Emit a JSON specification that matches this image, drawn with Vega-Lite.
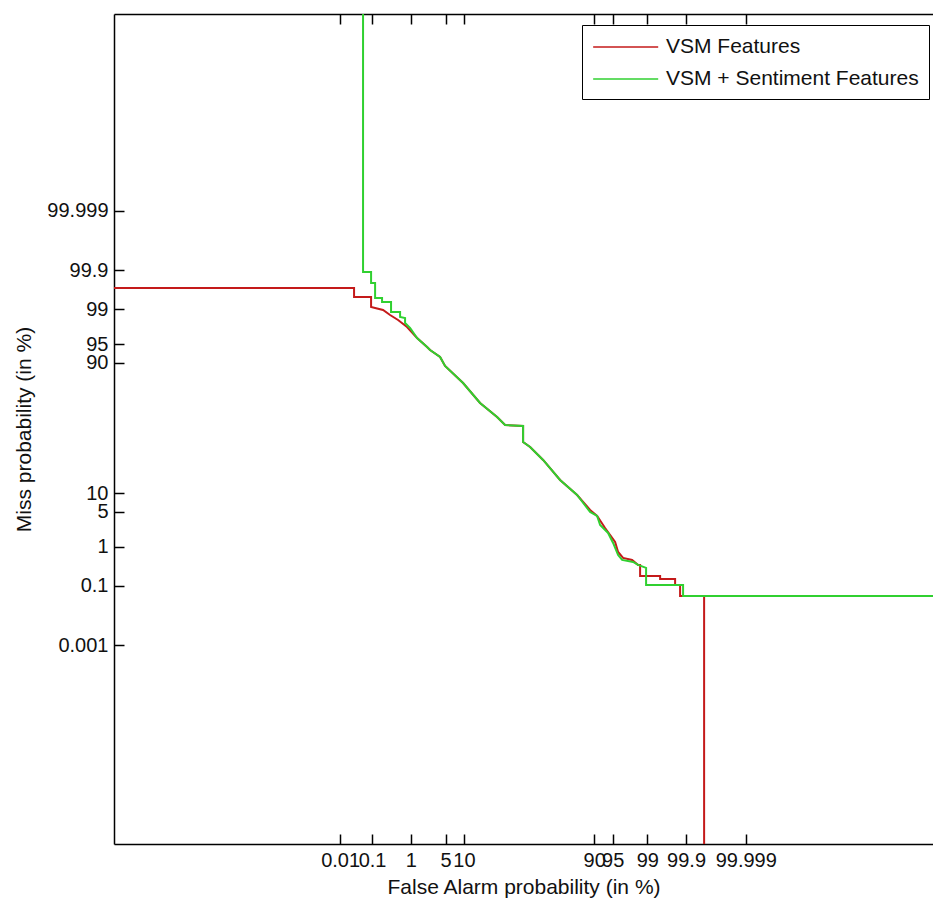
{
  "$schema": "https://vega.github.io/schema/vega-lite/v6.json",
  "autosize": "none",
  "width": 819,
  "height": 830,
  "padding": {"left": 114, "top": 14, "right": 0, "bottom": 58},
  "background": "white",
  "config": {
    "view": {"stroke": null},
    "font": "Liberation Sans",
    "axis": {
      "grid": false,
      "domainColor": "black",
      "domainWidth": 1.5,
      "tickColor": "black",
      "tickWidth": 1.5,
      "tickSize": -10,
      "labelFont": "Liberation Sans",
      "labelFontSize": 20,
      "labelColor": "#111",
      "labelOverlap": false,
      "labelFlush": false,
      "labelPadding": 16,
      "titleFont": "Liberation Sans",
      "titleFontSize": 21,
      "titleFontWeight": "normal",
      "titleColor": "#111"
    },
    "legend": {
      "orient": "none",
      "legendX": 468,
      "legendY": 11,
      "strokeColor": "black",
      "fillColor": "white",
      "padding": 10,
      "symbolType": "M-1,0H5",
      "symbolSize": 470,
      "symbolStrokeWidth": 1.5,
      "labelFont": "Liberation Sans",
      "labelFontSize": 21,
      "labelColor": "#111",
      "labelOffset": 50,
      "rowPadding": 10,
      "labelLimit": 400
    }
  },
  "data": {
    "values": [
      {"system": "VSM Features", "i": 0, "far": -9, "miss": 2.745},
      {"system": "VSM Features", "i": 1, "far": -3.445, "miss": 2.745},
      {"system": "VSM Features", "i": 2, "far": -3.445, "miss": 2.569},
      {"system": "VSM Features", "i": 3, "far": -3.110, "miss": 2.569},
      {"system": "VSM Features", "i": 4, "far": -3.110, "miss": 2.373},
      {"system": "VSM Features", "i": 5, "far": -3.031, "miss": 2.353},
      {"system": "VSM Features", "i": 6, "far": -2.874, "miss": 2.314},
      {"system": "VSM Features", "i": 7, "far": -2.736, "miss": 2.216},
      {"system": "VSM Features", "i": 8, "far": -2.579, "miss": 2.118},
      {"system": "VSM Features", "i": 9, "far": -2.402, "miss": 1.980},
      {"system": "VSM Features", "i": 10, "far": -2.205, "miss": 1.765},
      {"system": "VSM Features", "i": 11, "far": -2.008, "miss": 1.588},
      {"system": "VSM Features", "i": 12, "far": -1.949, "miss": 1.529},
      {"system": "VSM Features", "i": 13, "far": -1.752, "miss": 1.392},
      {"system": "VSM Features", "i": 14, "far": -1.654, "miss": 1.216},
      {"system": "VSM Features", "i": 15, "far": -1.299, "miss": 0.882},
      {"system": "VSM Features", "i": 16, "far": -0.965, "miss": 0.490},
      {"system": "VSM Features", "i": 17, "far": -0.630, "miss": 0.216},
      {"system": "VSM Features", "i": 18, "far": -0.472, "miss": 0.059},
      {"system": "VSM Features", "i": 19, "far": -0.118, "miss": 0.039},
      {"system": "VSM Features", "i": 20, "far": -0.118, "miss": -0.275},
      {"system": "VSM Features", "i": 21, "far": 0.020, "miss": -0.373},
      {"system": "VSM Features", "i": 22, "far": 0.276, "miss": -0.627},
      {"system": "VSM Features", "i": 23, "far": 0.610, "miss": -1.020},
      {"system": "VSM Features", "i": 24, "far": 0.945, "miss": -1.314},
      {"system": "VSM Features", "i": 25, "far": 1.201, "miss": -1.608},
      {"system": "VSM Features", "i": 26, "far": 1.339, "miss": -1.725},
      {"system": "VSM Features", "i": 27, "far": 1.496, "miss": -1.961},
      {"system": "VSM Features", "i": 28, "far": 1.693, "miss": -2.235},
      {"system": "VSM Features", "i": 29, "far": 1.752, "miss": -2.431},
      {"system": "VSM Features", "i": 30, "far": 1.850, "miss": -2.549},
      {"system": "VSM Features", "i": 31, "far": 2.028, "miss": -2.588},
      {"system": "VSM Features", "i": 32, "far": 2.146, "miss": -2.686},
      {"system": "VSM Features", "i": 33, "far": 2.185, "miss": -2.686},
      {"system": "VSM Features", "i": 34, "far": 2.185, "miss": -2.902},
      {"system": "VSM Features", "i": 35, "far": 2.579, "miss": -2.902},
      {"system": "VSM Features", "i": 36, "far": 2.579, "miss": -2.961},
      {"system": "VSM Features", "i": 37, "far": 2.874, "miss": -2.961},
      {"system": "VSM Features", "i": 38, "far": 2.874, "miss": -3.078},
      {"system": "VSM Features", "i": 39, "far": 2.972, "miss": -3.078},
      {"system": "VSM Features", "i": 40, "far": 2.972, "miss": -3.294},
      {"system": "VSM Features", "i": 41, "far": 3.445, "miss": -3.294},
      {"system": "VSM Features", "i": 42, "far": 3.445, "miss": -9},
      {"system": "VSM + Sentiment Features", "i": 0, "far": -3.268, "miss": 9},
      {"system": "VSM + Sentiment Features", "i": 1, "far": -3.268, "miss": 3.059},
      {"system": "VSM + Sentiment Features", "i": 2, "far": -3.110, "miss": 3.059},
      {"system": "VSM + Sentiment Features", "i": 3, "far": -3.110, "miss": 2.843},
      {"system": "VSM + Sentiment Features", "i": 4, "far": -3.031, "miss": 2.843},
      {"system": "VSM + Sentiment Features", "i": 5, "far": -3.031, "miss": 2.549},
      {"system": "VSM + Sentiment Features", "i": 6, "far": -2.894, "miss": 2.549},
      {"system": "VSM + Sentiment Features", "i": 7, "far": -2.894, "miss": 2.471},
      {"system": "VSM + Sentiment Features", "i": 8, "far": -2.717, "miss": 2.471},
      {"system": "VSM + Sentiment Features", "i": 9, "far": -2.717, "miss": 2.275},
      {"system": "VSM + Sentiment Features", "i": 10, "far": -2.539, "miss": 2.275},
      {"system": "VSM + Sentiment Features", "i": 11, "far": -2.539, "miss": 2.176},
      {"system": "VSM + Sentiment Features", "i": 12, "far": -2.441, "miss": 2.157},
      {"system": "VSM + Sentiment Features", "i": 13, "far": -2.441, "miss": 2.059},
      {"system": "VSM + Sentiment Features", "i": 14, "far": -2.343, "miss": 1.961},
      {"system": "VSM + Sentiment Features", "i": 15, "far": -2.205, "miss": 1.765},
      {"system": "VSM + Sentiment Features", "i": 16, "far": -2.008, "miss": 1.588},
      {"system": "VSM + Sentiment Features", "i": 17, "far": -1.949, "miss": 1.529},
      {"system": "VSM + Sentiment Features", "i": 18, "far": -1.752, "miss": 1.392},
      {"system": "VSM + Sentiment Features", "i": 19, "far": -1.654, "miss": 1.216},
      {"system": "VSM + Sentiment Features", "i": 20, "far": -1.299, "miss": 0.882},
      {"system": "VSM + Sentiment Features", "i": 21, "far": -0.965, "miss": 0.490},
      {"system": "VSM + Sentiment Features", "i": 22, "far": -0.630, "miss": 0.216},
      {"system": "VSM + Sentiment Features", "i": 23, "far": -0.472, "miss": 0.059},
      {"system": "VSM + Sentiment Features", "i": 24, "far": -0.118, "miss": 0.039},
      {"system": "VSM + Sentiment Features", "i": 25, "far": -0.118, "miss": -0.275},
      {"system": "VSM + Sentiment Features", "i": 26, "far": 0.020, "miss": -0.373},
      {"system": "VSM + Sentiment Features", "i": 27, "far": 0.276, "miss": -0.627},
      {"system": "VSM + Sentiment Features", "i": 28, "far": 0.610, "miss": -1.020},
      {"system": "VSM + Sentiment Features", "i": 29, "far": 0.945, "miss": -1.314},
      {"system": "VSM + Sentiment Features", "i": 30, "far": 1.201, "miss": -1.647},
      {"system": "VSM + Sentiment Features", "i": 31, "far": 1.339, "miss": -1.725},
      {"system": "VSM + Sentiment Features", "i": 32, "far": 1.398, "miss": -1.902},
      {"system": "VSM + Sentiment Features", "i": 33, "far": 1.555, "miss": -2.059},
      {"system": "VSM + Sentiment Features", "i": 34, "far": 1.654, "miss": -2.255},
      {"system": "VSM + Sentiment Features", "i": 35, "far": 1.752, "miss": -2.490},
      {"system": "VSM + Sentiment Features", "i": 36, "far": 1.831, "miss": -2.588},
      {"system": "VSM + Sentiment Features", "i": 37, "far": 2.047, "miss": -2.627},
      {"system": "VSM + Sentiment Features", "i": 38, "far": 2.146, "miss": -2.686},
      {"system": "VSM + Sentiment Features", "i": 39, "far": 2.303, "miss": -2.745},
      {"system": "VSM + Sentiment Features", "i": 40, "far": 2.303, "miss": -3.078},
      {"system": "VSM + Sentiment Features", "i": 41, "far": 3.031, "miss": -3.078},
      {"system": "VSM + Sentiment Features", "i": 42, "far": 3.031, "miss": -3.294},
      {"system": "VSM + Sentiment Features", "i": 43, "far": 9, "miss": -3.294}
    ]
  },
  "resolve": {"axis": {"x": "independent", "y": "independent"}},
  "layer": [
    {
      "mark": {"type": "line", "strokeWidth": 2, "clip": true},
      "encoding": {
        "x": {
          "field": "far", "type": "quantitative",
          "scale": {"domain": [-8.17, 7.95], "nice": false, "zero": false},
          "axis": {
            "orient": "bottom",
            "title": "False Alarm probability (in %)",
            "titlePadding": 6,
            "values": [-3.719, -3.0902, -2.3263, -1.6449, -1.2816, 1.2816, 1.6449, 2.3263, 3.0902, 4.2649],
            "labelExpr": "datum.value < -4 ? '0.001' : datum.value < -3.5 ? '0.01' : datum.value < -3 ? '0.1' : datum.value < -2 ? '1' : datum.value < -1.5 ? '5' : datum.value < 0 ? '10' : datum.value < 1.5 ? '90' : datum.value < 2 ? '95' : datum.value < 3 ? '99' : datum.value < 4 ? '99.9' : '99.999'"
          }
        },
        "y": {
          "field": "miss", "type": "quantitative",
          "scale": {"domain": [-8.16, 8.12], "nice": false, "zero": false},
          "axis": {
            "orient": "left",
            "title": "Miss probability (in %)",
            "titlePadding": 12,
            "values": [-4.2649, -3.0902, -2.3263, -1.6449, -1.2816, 1.2816, 1.6449, 2.3263, 3.0902, 4.2649],
            "labelExpr": "datum.value < -4 ? '0.001' : datum.value < -3.5 ? '0.01' : datum.value < -3 ? '0.1' : datum.value < -2 ? '1' : datum.value < -1.5 ? '5' : datum.value < 0 ? '10' : datum.value < 1.5 ? '90' : datum.value < 2 ? '95' : datum.value < 3 ? '99' : datum.value < 4 ? '99.9' : '99.999'"
          }
        },
        "color": {
          "field": "system", "type": "nominal",
          "scale": {"domain": ["VSM Features", "VSM + Sentiment Features"], "range": ["#c41a1a", "#30d030"]},
          "legend": {"title": null}
        },
        "order": {"field": "i", "type": "quantitative"}
      }
    },
    {
      "mark": {"type": "line", "opacity": 0, "clip": true},
      "encoding": {
        "x": {
          "field": "far", "type": "quantitative",
          "axis": {
            "orient": "top",
            "title": null,
            "labels": false,
            "values": [-3.719, -3.0902, -2.3263, -1.6449, -1.2816, 1.2816, 1.6449, 2.3263, 3.0902, 4.2649]
          }
        },
        "y": {
          "field": "miss", "type": "quantitative",
          "axis": null
        },
        "detail": {"field": "system", "type": "nominal"},
        "order": {"field": "i", "type": "quantitative"}
      }
    }
  ]
}
